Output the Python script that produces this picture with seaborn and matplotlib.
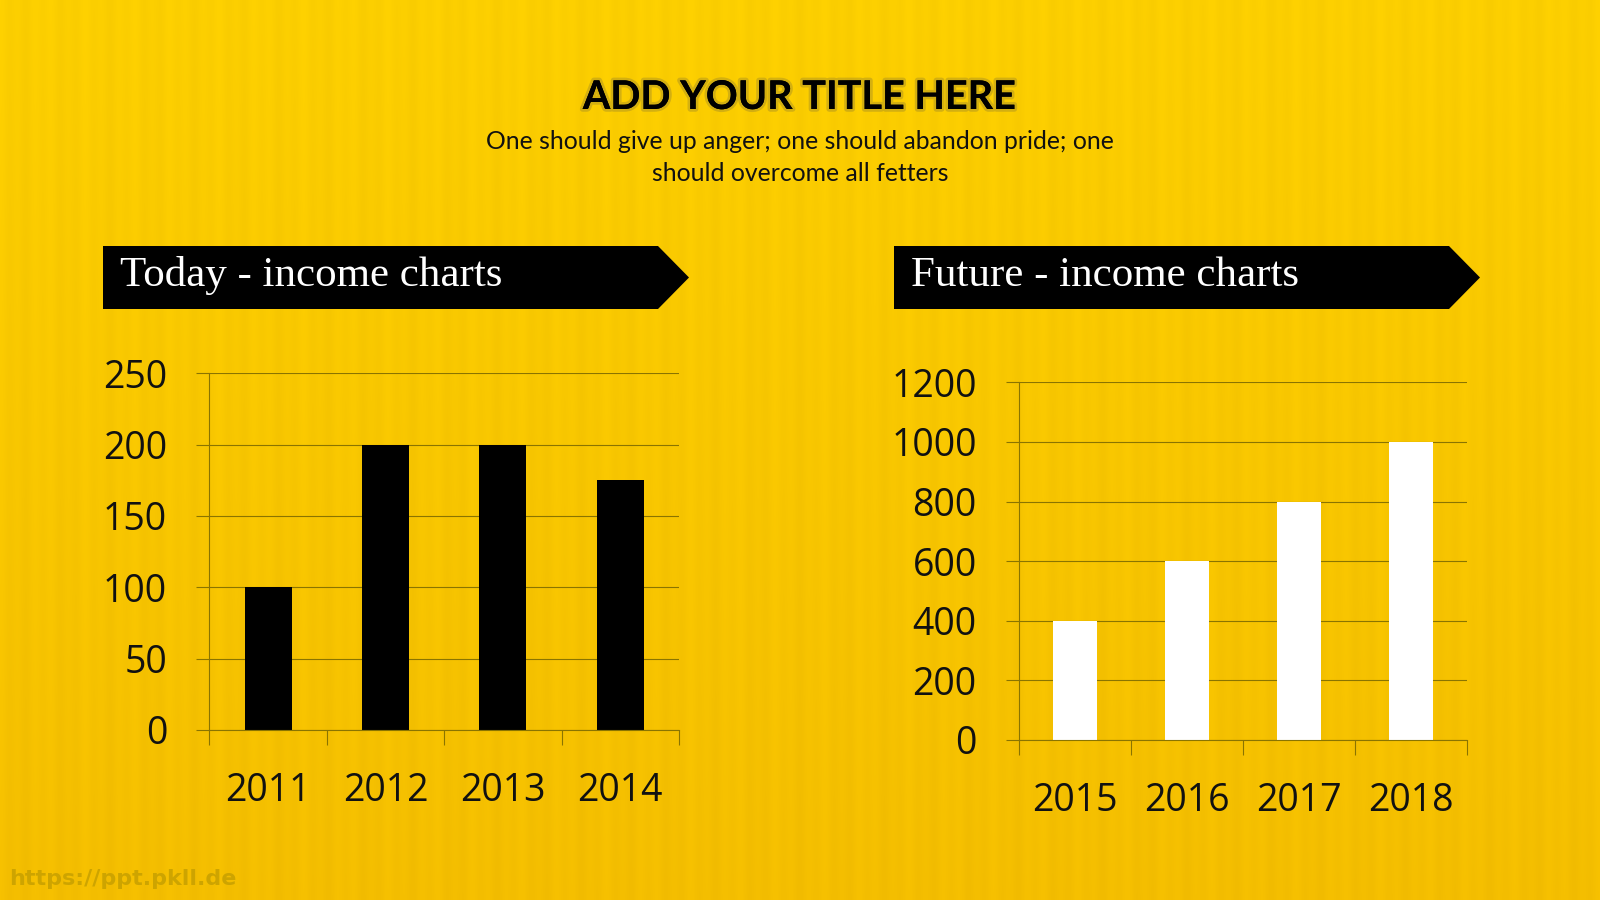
import numpy as np
import matplotlib
matplotlib.use("Agg")
import matplotlib.pyplot as plt
import seaborn as sns
from matplotlib.patches import Polygon
from matplotlib import patheffects as pe

# ---------------- data ----------------
title = "ADD YOUR TITLE HERE"
subtitle_lines = ["One should give up anger; one should abandon pride; one",
                  "should overcome all fetters"]
today_label = "Today - income charts"
future_label = "Future - income charts"
today_years = ["2011", "2012", "2013", "2014"]
today_income = [100, 200, 200, 175]
today_ticks = [0, 50, 100, 150, 200, 250]
future_years = ["2015", "2016", "2017", "2018"]
future_income = [400, 600, 800, 1000]
future_ticks = [0, 200, 400, 600, 800, 1000, 1200]
watermark = "https://ppt.pkll.de"

# ---------------- style ----------------
sns.set_theme(style="white")
plt.rcParams["font.family"] = ["Open Sans", "DejaVu Sans"]

W, H = 1600, 900
fig = plt.figure(figsize=(16, 9), dpi=100)


def fx(x):
    return x / W


def fy(y):
    return 1 - y / H


# background: yellow with soft vertical gradient and faint vertical stripes
bg = fig.add_axes([0, 0, 1, 1], zorder=-10)
hh, ww = 90, 800
yy = np.linspace(0, 1, hh)[:, None]
xx = np.linspace(0, 1, ww)[None, :]
top = np.array([252, 207, 0]) / 255
bot = np.array([244, 190, 0]) / 255
stripe = 0.007 * np.cos(2 * np.pi * xx * 95) + 0.005 * np.cos(2 * np.pi * xx * 37)
img = np.zeros((hh, ww, 3))
for c in range(3):
    img[:, :, c] = top[c] * (1 - yy) + bot[c] * yy + stripe * (1 if c < 2 else 0)
img = np.clip(img, 0, 1)
bg.imshow(img, aspect="auto", extent=[0, 1, 0, 1], interpolation="bilinear")
bg.set_axis_off()

# banners
def banner(x0, x_notch, x_tip, y0, y1, text):
    pts = [(fx(x0), fy(y0)), (fx(x_notch), fy(y0)), (fx(x_tip), fy((y0 + y1) / 2)),
           (fx(x_notch), fy(y1)), (fx(x0), fy(y1))]
    fig.add_artist(Polygon(pts, closed=True, facecolor="black", edgecolor="none",
                           transform=fig.transFigure))
    fig.text(fx(x0 + 17), fy(286), text, color="white", fontsize=31,
             family=["Liberation Serif", "DejaVu Serif"], ha="left", va="baseline")

banner(103, 658, 689, 246, 309, today_label)
banner(894, 1449, 1480, 246, 309, future_label)

# titles
fig.text(0.5, fy(109), title, ha="center", va="baseline", fontsize=28.5,
         fontweight="bold", family=["Lato", "DejaVu Sans"], color="black",
         path_effects=[pe.withStroke(linewidth=4, foreground="#8c7a30", alpha=0.35),
                       pe.Normal()])
fig.text(0.5, fy(149), subtitle_lines[0], ha="center", va="baseline", fontsize=17.8,
         family=["Lato", "DejaVu Sans"], color="#111111")
fig.text(0.5, fy(181), subtitle_lines[1], ha="center", va="baseline", fontsize=17.8,
         family=["Lato", "DejaVu Sans"], color="#111111")

fig.text(fx(9), fy(885), watermark, ha="left", va="baseline", fontsize=16,
         fontweight="bold", family=["DejaVu Sans"], color="#c49e00", alpha=0.8)

grid_c = "#8a7400"


def draw(rect, years, vals, ticks, color):
    ax = fig.add_axes(rect)
    ax.set_facecolor("none")
    sns.barplot(x=years, y=vals, color=color, width=0.4, saturation=1,
                linewidth=0, ax=ax)
    ax.set_xlim(-0.5, len(years) - 0.5)
    ax.set_ylim(0, ticks[-1])
    ax.set_yticks(ticks)
    ax.yaxis.grid(True, color=grid_c, lw=0.8)
    ax.xaxis.grid(False)
    ax.set_axisbelow(True)
    for s in ["top", "right"]:
        ax.spines[s].set_visible(False)
    for s in ["left", "bottom"]:
        ax.spines[s].set_color(grid_c)
        ax.spines[s].set_linewidth(0.8)
    ax.tick_params(axis="y", left=True, length=9.5, width=0.8, color=grid_c,
                   pad=21, labelsize=27, labelcolor="#111111")
    ax.set_xticks(np.arange(-0.5, len(years), 1), minor=True)
    ax.tick_params(axis="x", which="major", bottom=False, length=0, pad=30,
                   labelsize=27, labelcolor="#111111")
    ax.tick_params(axis="x", which="minor", bottom=True, length=11, width=0.8,
                   color=grid_c)
    ax.set_xlabel("")
    ax.set_ylabel("")
    return ax


draw([0.1309, 0.1889, 0.2935, 0.3963], today_years, today_income, today_ticks, "black")
draw([0.6369, 0.1778, 0.2800, 0.3974], future_years, future_income, future_ticks, "white")

fig.savefig("out.png", dpi=100)
